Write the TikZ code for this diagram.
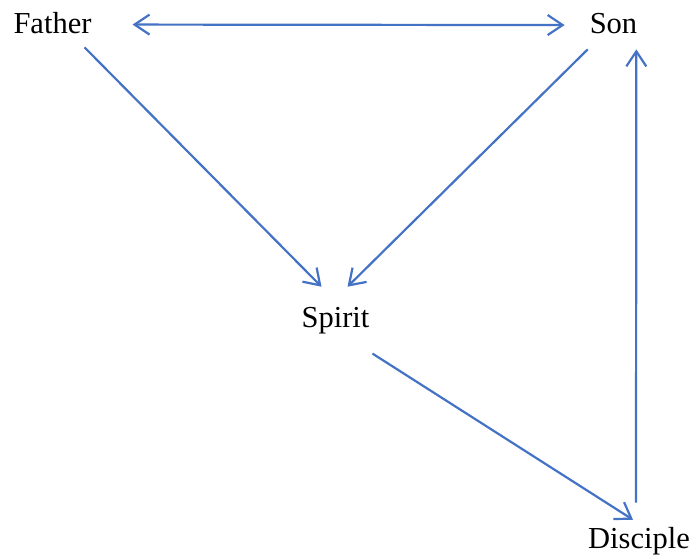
\documentclass[tikz,border=0pt]{standalone}
\usepackage{fontspec}
\setmainfont{Liberation Serif}
\usetikzlibrary{arrows.meta}
\definecolor{lineblue}{HTML}{4472C4}

\begin{document}
\begin{tikzpicture}[x=1pt, y=-1pt, ->, >={Straight Barb[length=15pt,width=20pt]}, lineblue, line width=2.2pt, font=\fontsize{30.5}{37}\selectfont]
                      \useasboundingbox (0,0) rectangle (697,555);

                      \node[anchor=base, inner sep=0pt, text=black] (father)   at (52.5,33)  {Father};
                      \node[anchor=base, inner sep=0pt, text=black] (son)      at (613.5,33) {Son};
                      \node[anchor=base, inner sep=0pt, text=black] (spirit)   at (335.5,327) {Spirit};
                      \node[anchor=base, inner sep=0pt, text=black] (disciple) at (639,548)  {Disciple};

                      \path ([xshift=40pt,yshift=-2pt]father.east) edge[<->] ([xshift=-24pt,yshift=-2pt]son.west)
                            ([xshift=-8pt,yshift=-13pt]father.south east) edge ([xshift=-14pt,yshift=19pt]spirit.north)
                            ([xshift=-1pt,yshift=-15pt]son.south west) edge ([xshift=12pt,yshift=19pt]spirit.north)
                            ([xshift=2pt,yshift=-19pt]spirit.south east) edge ([xshift=-6pt,yshift=6pt]disciple.north)
                            ([xshift=-3pt,yshift=23pt]disciple.north) edge ([xshift=-2pt,yshift=-15pt]son.south east);
                \end{tikzpicture}
\end{document}
